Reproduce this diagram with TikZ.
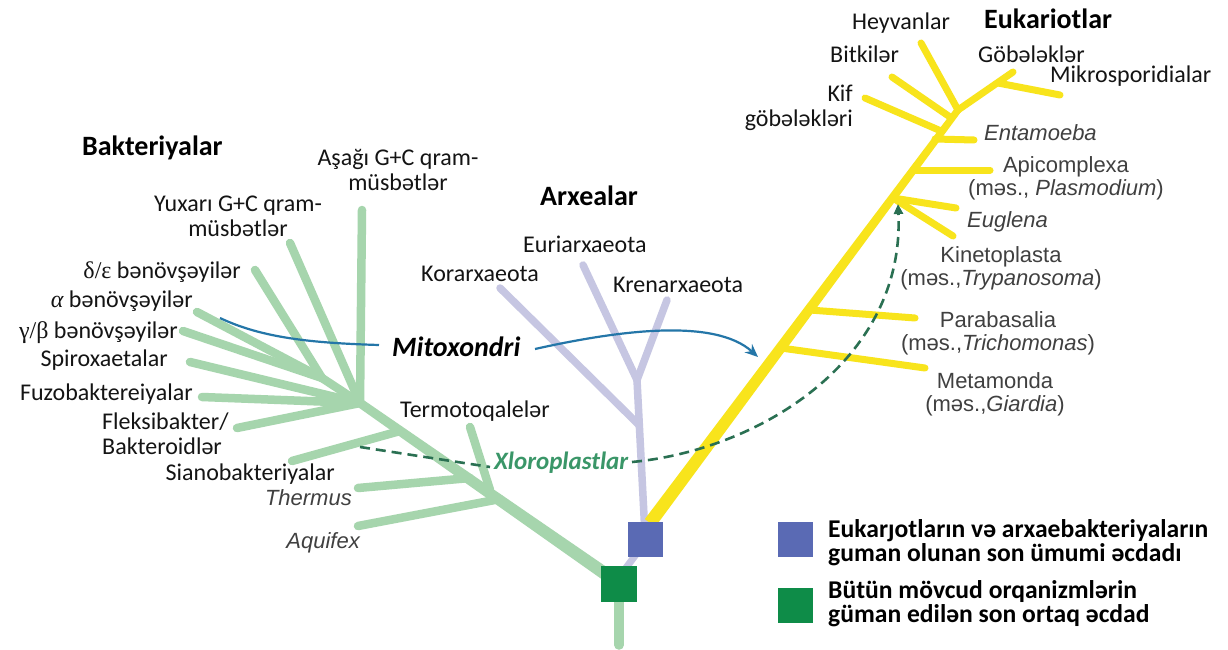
\documentclass[tikz,border=0pt]{standalone}
\usepackage{fontspec}
\setmainfont{Carlito}
\newfontfamily\hv{Liberation Sans}
\newfontfamily\grk{Liberation Serif}
\usetikzlibrary{arrows.meta}
\definecolor{brgreen}{RGB}{166,213,173}
\definecolor{arpurple}{RGB}{198,198,226}
\definecolor{euyellow}{RGB}{248,228,28}
\definecolor{bluesq}{RGB}{90,106,180}
\definecolor{greensq}{RGB}{14,140,72}
\definecolor{mitoblue}{RGB}{36,118,168}
\definecolor{chlgreen}{RGB}{42,112,82}
\definecolor{chltext}{RGB}{58,150,104}
\definecolor{labblack}{RGB}{20,20,20}
\definecolor{labgray}{RGB}{64,64,64}
\begin{document}
\begin{tikzpicture}[x=1pt,y=-1pt,
  gbr/.style={draw=brgreen,line width=8.5pt,line cap=round},
  abr/.style={draw=arpurple,line width=7.5pt,line cap=round},
  ebr/.style={draw=euyellow,line width=7pt,line cap=round},
  lab/.style={inner sep=0pt,text=labblack,font=\fontsize{24}{25}\selectfont},
  hlab/.style={inner sep=0pt,text=labgray,font=\hv\fontsize{22}{23}\selectfont},
  ilab/.style={inner sep=0pt,text=labgray,font=\hv\itshape\fontsize{22}{23}\selectfont},
  ttl/.style={inner sep=0pt,text=black,font=\bfseries\fontsize{28}{30}\selectfont},
  leg/.style={inner sep=0pt,text=black,align=left,font=\bfseries\fontsize{25.6}{24}\selectfont},
  sq/.style={draw=none,minimum size=35pt,inner sep=0pt},
  mitoline/.style={draw=mitoblue,line width=2.2pt},
  chlline/.style={draw=chlgreen,line width=2.6pt,dash pattern=on 10pt off 6pt},
]
\useasboundingbox (0,0) rectangle (1228,650);
\fill[white] (0,0) rectangle (1228,650);

% ---------- Bacteria ----------
\coordinate (bhub) at (360,403);
\coordinate (prot) at (322,378);
\coordinate (lowgc) at (362,210);
\coordinate (highgc) at (290,243);
\coordinate (de) at (255,270);
\coordinate (al) at (197,312);
\coordinate (gb) at (183,331);
\coordinate (spi) at (190,362);
\coordinate (fuz) at (202,397);
\coordinate (fle) at (237,428);
\coordinate (sia) at (292,461);
\coordinate (siaJ) at (400,431);
\coordinate (the) at (358,488);
\coordinate (theJ) at (470,478);
\coordinate (ter) at (470,427);
\coordinate (terJ) at (490,490);
\coordinate (aqu) at (358,526);
\coordinate (aquJ) at (500,499);
\coordinate (rootE) at (619,645);

\draw[gbr] (bhub) -- (lowgc);
\draw[gbr] (bhub) -- (highgc);
\draw[gbr] (prot) -- (de);
\draw[gbr] (prot) -- (al);
\draw[gbr] (prot) -- (gb);
\draw[gbr] (bhub) -- (prot);
\draw[gbr] (bhub) -- (spi);
\draw[gbr] (bhub) -- (fuz);
\draw[gbr] (bhub) -- (fle);
\draw[gbr] (siaJ) -- (sia);
\draw[gbr] (theJ) -- (the);
\draw[gbr] (terJ) -- (ter);
\draw[gbr] (aquJ) -- (aqu);
% tapered trunk
\fill[brgreen] (362.57,399.31) -- (620.71,576.67) -- (613.29,587.33) -- (357.43,406.69) -- cycle;
\fill[brgreen] (bhub) circle (4.5);
\draw[gbr,line width=9.5pt] (619,600) -- (rootE);

% ---------- Archaea ----------
\coordinate (aY) at (637,380);
\coordinate (euri) at (583,265);
\coordinate (kren) at (667,300);
\coordinate (kor) at (500,288);
\coordinate (korJ) at (639,425);
\draw[abr] (aY) -- (euri);
\draw[abr] (aY) -- (kren);
\draw[abr] (korJ) -- (kor);
\draw[abr] (645,535) -- (aY);
\draw[abr,line width=7pt] (617,580) -- (643,545);

% ---------- Eukaryotes ----------
\coordinate (etop) at (958,110);
\fill[euyellow] (644.79,519.11) -- (955.19,107.91) -- (960.81,112.09) -- (655.21,526.89) -- cycle;
\coordinate (metaJ) at (781,348);   \coordinate (meta) at (925,368);
\coordinate (paraJ) at (810,310);   \coordinate (para) at (915,318);
\coordinate (J1) at (893,198);
\coordinate (eug) at (956,208);     \coordinate (kin) at (953,236);
\coordinate (apiJ) at (913,170);    \coordinate (api) at (990,170);
\coordinate (entJ) at (935,139);    \coordinate (ent) at (974,140);
\coordinate (kifJ) at (941,131);    \coordinate (kif) at (865,98);
\coordinate (bitJ) at (950,117);    \coordinate (bit) at (892,77);
\coordinate (hey) at (921,43);
\coordinate (gob) at (1013,72);
\coordinate (mikJ) at (998,83);     \coordinate (mik) at (1060,95);
\draw[ebr] (metaJ) -- (meta);
\draw[ebr] (paraJ) -- (para);
\draw[ebr] (J1) -- (eug);
\draw[ebr] (J1) -- (kin);
\draw[ebr] (apiJ) -- (api);
\draw[ebr] (entJ) -- (ent);
\draw[ebr] (kifJ) -- (kif);
\draw[ebr] (bitJ) -- (bit);
\draw[ebr] (etop) -- (hey);
\draw[ebr] (etop) -- (gob);
\draw[ebr] (mikJ) -- (mik);

% ---------- ancestor squares ----------
\node[sq,fill=greensq,minimum size=36pt] (luca) at (619,584) {};
\node[sq,fill=bluesq] (lca) at (645,539) {};

% ---------- labels: bacteria (multi-line nodes: base = last line) ----------
\node[ttl,anchor=base west] (tbac) at (82,155) {Bakteriyalar};
\node[lab,align=center,anchor=base] (lowgcL) at (398,190) {Aşağı G+C qram-\\müsbətlər};
\node[lab,align=center,anchor=base] (highgcL) at (238,236) {Yuxarı G+C qram-\\müsbətlər};
\node[lab,anchor=base east] (deL) at (241,278) {{\grk δ/ε} bənövşəyilər};
\node[lab,anchor=base east] (alL) at (193,307) {{\grk\itshape α} bənövşəyilər};
\node[lab,anchor=base east] (gbL) at (178,338) {{\grk γ/β} bənövşəyilər};
\node[lab,anchor=base east] (spiL) at (168,366) {Spiroxaetalar};
\node[lab,anchor=base east] (fuzL) at (193,400) {Fuzobaktereiyalar};
\node[lab,align=left,anchor=base west] (fleL) at (102,454) {Fleksibakter/\\Bakteroidlər};
\node[lab,anchor=base east] (siaL) at (335,480) {Sianobakteriyalar};
\node[ilab,anchor=base east] (theL) at (352,505) {Thermus};
\node[ilab,anchor=base east] (aquL) at (360,548) {Aquifex};
\node[lab,anchor=base west] (terL) at (400,417) {Termotoqalelər};

% ---------- labels: archaea ----------
\node[ttl,anchor=base west] (tarx) at (540,205) {Arxealar};
\node[lab,anchor=base west] (euriL) at (523,252) {Euriarxaeota};
\node[lab,anchor=base west] (korL) at (421,281) {Korarxaeota};
\node[lab,anchor=base west] (krenL) at (613,292) {Krenarxaeota};

% ---------- labels: eukaryotes ----------
\node[ttl,anchor=base west] (teuk) at (984,29) {Eukariotlar};
\node[lab,anchor=base west] (heyL) at (852,30) {Heyvanlar};
\node[lab,anchor=base west] (bitL) at (830,63) {Bitkilər};
\node[lab,anchor=base west] (gobL) at (978,63) {Göbələklər};
\node[lab,anchor=base west] (mikL) at (1050,83) {Mikrosporidialar};
\node[lab,align=right,anchor=base east] (kifL) at (853,127) {Kif\\göbələkləri};
\node[ilab,anchor=base west] (entL) at (984,140) {Entamoeba};
\node[hlab,align=center,anchor=base] (apiL) at (1066,195) {Apicomplexa\\(məs., \textit{Plasmodium})};
\node[ilab,anchor=base west] (eugL) at (967,227) {Euglena};
\node[hlab,align=center,anchor=base] (kinL) at (1001,285) {Kinetoplasta\\(məs.,\textit{Trypanosoma})};
\node[hlab,align=center,anchor=base] (paraL) at (998,350) {Parabasalia\\(məs.,\textit{Trichomonas})};
\node[hlab,align=center,anchor=base] (metaL) at (995,411) {Metamonda\\(məs.,\textit{Giardia})};

% ---------- Mitochondria ----------
\node[inner sep=0pt,anchor=base west,font=\bfseries\itshape\fontsize{28}{29}\selectfont] (mito) at (392,356) {Mitoxondri};
\coordinate (mitoS) at (220,318);
\coordinate (mitoA) at (379,345);
\coordinate (mitoB) at (535,349);
\coordinate (mitoT) at (758,357);
\draw[mitoline] (mitoS) .. controls (262,338) and (312,343) .. (mitoA);
\draw[mitoline,-{Stealth[length=13pt,width=11pt]}] (mitoB) .. controls (620,330) and (715,318) .. (mitoT);

% ---------- Chloroplasts ----------
\node[inner sep=0pt,anchor=base west,text=chltext,font=\bfseries\itshape\fontsize{25}{26}\selectfont] (chl) at (494,469) {Xloroplastlar};
\coordinate (chlS) at (360,447);
\coordinate (chlA) at (490,467);
\coordinate (chlB) at (632,462);
\coordinate (chlT) at (898,204);
\draw[chlline] (chlS) -- (chlA);
\draw[chlline,-{Triangle[length=10pt,width=9pt]}] (chlB) .. controls (760,450) and (905,360) .. (chlT);

% ---------- legend ----------
\node[sq,fill=bluesq] (legB) at (795.5,539.5) {};
\node[sq,fill=greensq] (legG) at (795.5,605.5) {};
\node[leg,anchor=base west] (legBt) at (828,561) {Eukarȷotların və arxaebakteriyaların\\guman olunan son ümumi əcdadı};
\node[leg,anchor=base west] (legGt) at (828,622) {Bütün mövcud orqanizmlərin\\güman edilən son ortaq əcdad};
\end{tikzpicture}
\end{document}
